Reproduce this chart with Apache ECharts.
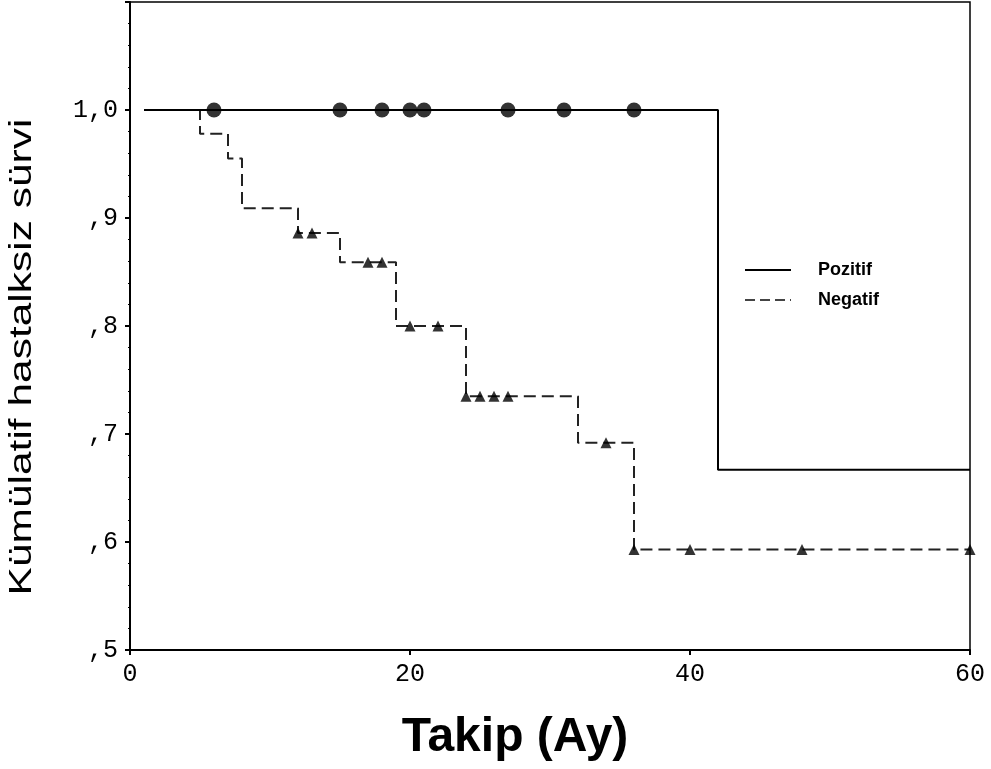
<!DOCTYPE html>
<html>
<head>
<meta charset="utf-8">
<script src="https://cdn.jsdelivr.net/npm/echarts@6/dist/echarts.min.js"></script>
<style>
html,body{margin:0;padding:0;background:#fff;}
#chart{width:991px;height:769px;}
</style>
</head>
<body>
<div id="chart"></div>
<script>
// Kaplan-Meier step data (time in months, survival)
const posTimes = [1, 42, 60];
const posValues = [1.0, 0.667, 0.667];
const posCensor = [6, 15, 18, 20, 21, 27, 31, 36];

const negTimes = [1, 5, 7, 8, 12, 15, 19, 24, 32, 36, 60];
const negValues = [1.0, 0.978, 0.955, 0.909, 0.886, 0.859, 0.80, 0.735, 0.692, 0.593, 0.593];
const negCensor = [12, 13, 17, 18, 20, 22, 24, 25, 26, 27, 34, 36, 40, 48, 60];

const yTickLabels = {'0.5': ',5', '0.6': ',6', '0.7': ',7', '0.8': ',8', '0.9': ',9', '1.0': '1,0'};
const seriesNames = ['Pozitif', 'Negatif'];
const xTitle = 'Takip (Ay)';
const yTitle = 'Kümülatif hastalksiz sürvi';

function survAt(times, values, t) {
  let v = values[0];
  for (let i = 0; i < times.length; i++) { if (times[i] <= t) v = values[i]; }
  return v;
}
const zip = (a, b) => a.map((x, i) => [x, b[i]]);

const negDash = [12, 6];

const chart = echarts.init(document.getElementById('chart'));
chart.setOption({
  animation: false,
  backgroundColor: '#fff',
  grid: { left: 130, right: 21, top: 2, bottom: 119, show: true, borderColor: '#000', borderWidth: 1.5, backgroundColor: 'transparent' },
  xAxis: {
    type: 'value', min: 0, max: 60, interval: 20,
    axisLine: { show: true, lineStyle: { color: '#000', width: 2 } },
    axisTick: { show: true, length: 5, lineStyle: { color: '#000', width: 2 } },
    axisLabel: { fontFamily: 'Liberation Mono', fontSize: 25, color: '#000', margin: 12 },
    splitLine: { show: false }
  },
  yAxis: {
    type: 'value', min: 0.5, max: 1.1, interval: 0.1,
    axisLine: { show: true, lineStyle: { color: '#000', width: 2 } },
    axisTick: { show: true, length: 5, lineStyle: { color: '#000', width: 2 } },
    minorTick: { show: true, splitNumber: 5, length: 2, lineStyle: { color: '#000' } },
    axisLabel: {
      fontFamily: 'Liberation Mono', fontSize: 25, color: '#000', margin: 12,
      formatter: v => yTickLabels[v.toFixed(1)] || ''
    },
    splitLine: { show: false }
  },
  series: [
    {
      name: seriesNames[0], type: 'line', step: 'end', data: zip(posTimes, posValues),
      symbol: 'none', lineStyle: { color: '#000', width: 2 }, itemStyle: { color: '#000' }, z: 3
    },
    {
      name: seriesNames[1], type: 'line', step: 'end', data: zip(negTimes, negValues),
      symbol: 'none', lineStyle: { color: '#222', width: 2, type: negDash }, itemStyle: { color: '#222' }, z: 2
    },
    {
      name: 'PozitifCensor', type: 'scatter', symbol: 'circle', symbolSize: 15,
      data: posCensor.map(t => [t, survAt(posTimes, posValues, t)]),
      itemStyle: { color: '#000' }, z: 4
    },
    {
      name: 'NegatifCensor', type: 'scatter', symbol: 'triangle', symbolSize: 11,
      data: negCensor.map(t => [t, survAt(negTimes, negValues, t)]),
      itemStyle: { color: '#000' }, z: 4
    }
  ],
  graphic: [
    // legend
    { type: 'line', shape: { x1: 745, y1: 270, x2: 791, y2: 270 }, style: { stroke: '#000', lineWidth: 2 } },
    { type: 'text', x: 818, y: 270, style: { text: seriesNames[0], fontFamily: 'Liberation Sans', fontWeight: 'bold', fontSize: 18, fill: '#000', verticalAlign: 'middle' } },
    { type: 'line', shape: { x1: 745, y1: 300, x2: 791, y2: 300 }, style: { stroke: '#444', lineWidth: 2, lineDash: [10, 5] } },
    { type: 'text', x: 818, y: 300, style: { text: seriesNames[1], fontFamily: 'Liberation Sans', fontWeight: 'bold', fontSize: 18, fill: '#000', verticalAlign: 'middle' } },
    // axis titles
    { type: 'text', x: 515, y: 738, style: { text: xTitle, fontFamily: 'Liberation Sans', fontWeight: 'bold', fontSize: 48, fill: '#000', align: 'center', verticalAlign: 'middle' } },
    { type: 'text', x: 22, y: 357, rotation: Math.PI / 2, scaleX: 1.37,
      style: { text: yTitle, fontFamily: 'Liberation Sans', fontSize: 31, fill: '#000', align: 'center', verticalAlign: 'middle' } }
  ]
});
</script>
</body>
</html>
